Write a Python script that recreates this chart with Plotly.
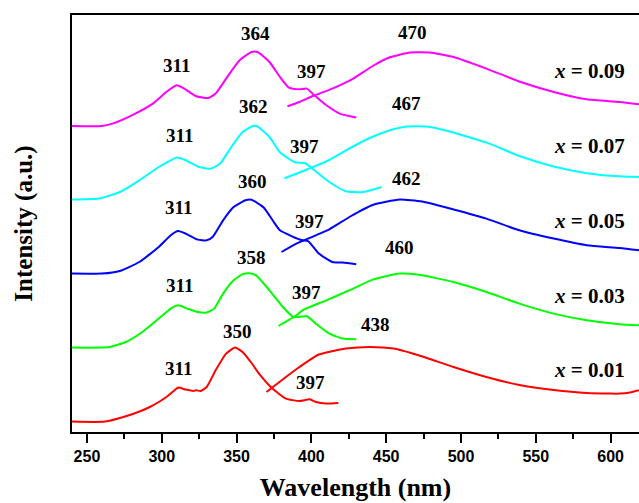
import plotly.graph_objects as go

# ---------------- data (wavelength nm, intensity a.u.) ----------------
# x = 0.01 (red)
red_ex_wl = [240, 262, 276, 286, 292, 298, 304, 308, 311, 316, 321, 323, 326, 330, 336, 343, 349, 354, 360, 365, 374, 383, 392, 399, 403, 410, 418]
red_ex_y = [10.4, 10.4, 15.7, 21, 25, 30, 36, 41, 44.4, 42.4, 41, 41.7, 41, 45, 61.7, 78.4, 84.4, 80, 69, 58.4, 43.4, 33.4, 31, 32.7, 30, 28.4, 29]
red_em_wl = [370, 383, 392, 405, 423, 439, 455, 472, 495, 517, 539, 562, 584, 600, 606, 613, 619]
red_em_y = [40, 55, 65, 77.5, 83.4, 85, 83.4, 76.5, 65, 55, 47, 42, 39, 38.4, 38.4, 39.5, 41.7]

# x = 0.03 (green)
green_ex_wl = [240, 265, 276, 287, 298, 306, 311, 317, 324, 330, 335, 341, 348, 354, 358, 363, 372, 381, 388, 397, 403, 412, 421, 430]
green_ex_y = [84.4, 85, 90, 100, 113.4, 123.4, 126.7, 123.4, 120, 119.4, 123.4, 138.4, 151.7, 157.7, 158.7, 156.7, 141.7, 125, 115, 115.7, 108.4, 98.4, 93.4, 92.7]
green_em_wl = [378, 390, 394, 410, 428, 441, 459, 472, 495, 517, 539, 562, 584, 606, 619]
green_em_y = [106, 116.7, 121.7, 131.7, 143.4, 152.4, 158.4, 157.2, 150, 140, 128.4, 118.4, 111.7, 107.7, 106.7]

# x = 0.05 (blue)
blue_ex_wl = [240, 260, 272, 285, 298, 306, 311, 316, 324, 330, 334, 341, 348, 356, 360, 368, 375, 379, 387, 394, 398, 405, 414, 421, 430]
blue_ex_y = [158.4, 158.4, 161, 170, 185, 196.7, 201, 198.4, 192.4, 191.7, 195, 211.7, 225, 231.7, 232.2, 224.7, 209.7, 201.7, 195.7, 191.7, 190.7, 178.4, 170, 169.4, 167.7]
blue_em_wl = [380, 390, 403, 412, 426, 441, 459, 474, 495, 517, 539, 562, 584, 606, 619]
blue_em_y = [180, 188.4, 196.7, 202.7, 215.5, 227, 232.4, 230.5, 222.5, 213.4, 201.7, 193.4, 186.7, 184, 181.7]

# x = 0.07 (cyan)
cyan_ex_wl = [240, 258, 272, 285, 298, 306, 310, 316, 325, 333, 339, 345, 354, 361, 364, 372, 379, 389, 396, 402, 412, 423, 435, 447]
cyan_ex_y = [232.4, 233.4, 240, 251.7, 265, 271.7, 274.4, 271.7, 265, 263.4, 268.4, 281.7, 300, 306, 305.5, 295, 279.7, 269.7, 268.7, 261.7, 250, 240.7, 240, 245]
cyan_em_wl = [382, 392, 402, 412, 426, 439, 452, 464, 477, 490, 505, 519, 539, 562, 584, 606, 619]
cyan_em_y = [253.7, 259.5, 265.5, 272, 284, 294, 301.5, 305.5, 305.5, 301.5, 295, 288.4, 276, 265.5, 258.8, 255.7, 255]

# x = 0.09 (magenta)
mag_ex_wl = [240, 260, 267, 280, 294, 303, 310, 315, 323, 331, 336, 343, 352, 360, 364, 372, 379, 385, 392, 397, 402, 410, 419, 430]
mag_ex_y = [306, 306, 308.4, 316.7, 328.4, 340, 346.7, 343.4, 335.7, 334, 338.4, 353.4, 371.7, 380, 380, 370, 355, 344.4, 342.7, 343.4, 336.7, 326.7, 318.4, 314.4]
mag_em_wl = [384, 392, 401, 414, 428, 441, 452, 466, 479, 495, 517, 539, 562, 584, 606, 619]
mag_em_y = [325.7, 330, 336, 343.4, 353.4, 366, 374.5, 379.5, 379.4, 375, 363.4, 350.5, 340, 332.7, 330, 327.7]

# peak labels: (text, wavelength, intensity)
peak_labels = [
    ("311", 309.6, 366.7), ("364", 362.9, 398.7), ("397", 400.1, 360.4), ("470", 467.9, 399.4),
    ("311", 311.8, 296.7), ("362", 361.5, 325.7), ("397", 395.4, 285.7), ("467", 463.5, 328.4),
    ("311", 311.1, 225.0), ("360", 360.6, 250.7), ("397", 398.8, 210.7), ("462", 463.5, 254.0),
    ("311", 311.8, 146.7), ("358", 360.2, 175.0), ("397", 396.6, 140.0), ("460", 459.0, 184.4),
    ("311", 311.1, 63.4), ("350", 350.4, 101.0), ("397", 399.3, 50.0), ("438", 443.0, 107.4),
]
# composition labels
comp_labels = [("0.09", 586, 360.7), ("0.07", 586, 286.0), ("0.05", 586, 211.0),
               ("0.03", 586, 135.7), ("0.01", 586, 61.7)]

x_ticks = [250, 300, 350, 400, 450, 500, 550, 600]

series = [
    (red_ex_wl, red_ex_y, red_em_wl, red_em_y, "#FF0000", "x = 0.01"),
    (green_ex_wl, green_ex_y, green_em_wl, green_em_y, "#00FF00", "x = 0.03"),
    (blue_ex_wl, blue_ex_y, blue_em_wl, blue_em_y, "#0000FF", "x = 0.05"),
    (cyan_ex_wl, cyan_ex_y, cyan_em_wl, cyan_em_y, "#00FFFF", "x = 0.07"),
    (mag_ex_wl, mag_ex_y, mag_em_wl, mag_em_y, "#FF00FF", "x = 0.09"),
]

fig = go.Figure()
for exw, exy, emw, emy, col, name in series:
    for wl, yy, part in ((exw, exy, "excitation"), (emw, emy, "emission")):
        fig.add_trace(go.Scatter(
            x=wl, y=yy, mode="lines", name=f"{name} {part}",
            line=dict(color=col, width=2, shape="spline", smoothing=0.5),
            showlegend=False, hoverinfo="skip"))

serif = "Liberation Serif, Times New Roman, serif"
for txt, wx, wy in peak_labels:
    fig.add_annotation(x=wx, y=wy, text=txt, showarrow=False,
                       font=dict(family=serif, size=19, color="black", weight="bold"),
                       xanchor="center", yanchor="middle")
for val, wx, wy in comp_labels:
    fig.add_annotation(x=wx, y=wy, text=f"<i>x</i> = {val}", showarrow=False,
                       font=dict(family=serif, size=21, color="black", weight="bold"),
                       xanchor="center", yanchor="middle")

fig.update_layout(
    width=639, height=503,
    margin=dict(l=72, r=0, t=15, b=71),
    paper_bgcolor="white", plot_bgcolor="white",
    showlegend=False,
)
fig.update_xaxes(
    range=[240, 619], tickvals=x_ticks, ticks="outside", ticklen=9, tickwidth=2,
    tickcolor="black", showline=True, linewidth=2, linecolor="black", mirror=True,
    showgrid=False, zeroline=False,
    tickfont=dict(family="Liberation Sans, Arial, sans-serif", size=16, color="black", weight="bold"),
    minor=dict(ticks="outside", ticklen=5, tickwidth=2, tickcolor="black", dtick=25, tick0=250, showgrid=False),
    title=dict(text="Wavelength (nm)", standoff=14,
               font=dict(family=serif, size=26, color="black", weight="bold")),
)
fig.update_yaxes(
    range=[0, 417], showticklabels=False, ticks="", showline=True, linewidth=2,
    linecolor="black", showgrid=False, zeroline=False,
    title=dict(text="Intensity (a.u.)", standoff=30,
               font=dict(family=serif, size=25, color="black", weight="bold")),
)

fig.write_html("out.html")
